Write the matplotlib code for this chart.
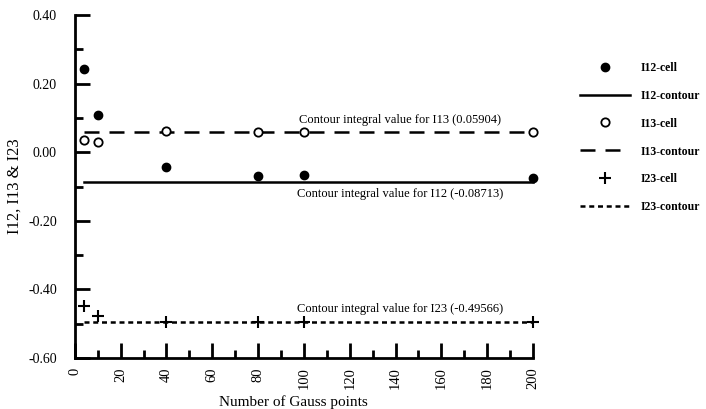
import matplotlib
matplotlib.use("Agg")
import matplotlib.pyplot as plt
import numpy as np

plt.rcParams['font.family'] = ['Liberation Serif', 'DejaVu Serif']

gauss_points = [4, 10, 40, 80, 100, 200]
i12_cell = [0.243, 0.108, -0.042, -0.070, -0.066, -0.075]
i13_cell = [0.035, 0.030, 0.061, 0.058, 0.058, 0.058]
i23_cell = [-0.450, -0.478, -0.495, -0.495, -0.495, -0.495]
contour_x = [4, 200]
i12_contour = -0.08713
i13_contour = 0.05904
i23_contour = -0.49566

fig = plt.figure(figsize=(7.06, 4.09), dpi=100)
ax = fig.add_axes([0.106, 0.125, 0.649, 0.838])

ax.plot(gauss_points, i12_cell, 'o', color='black', ms=6, label='I12-cell', zorder=3, clip_on=False)
ax.plot(contour_x, [i12_contour]*2, '-', color='black', lw=1.8, label='I12-contour', clip_on=False)
ax.plot(gauss_points, i13_cell, 'o', mfc='white', mec='black', mew=1.3, ms=6, label='I13-cell', zorder=3, clip_on=False)
ax.plot(contour_x, [i13_contour]*2, '--', color='black', lw=1.8, dashes=(6, 4), label='I13-contour', clip_on=False)
ax.plot(gauss_points, i23_cell, '+', color='black', ms=9, mew=1.5, label='I23-cell', zorder=3, clip_on=False)
ax.plot(contour_x, [i23_contour]*2, ':', color='black', lw=1.8, dashes=(2, 1.5), label='I23-contour', clip_on=False)

ax.text(142, i13_contour + 0.018, 'Contour integral value for I13 (0.05904)', ha='center', va='bottom', fontsize=9)
ax.text(142, i12_contour - 0.018, 'Contour integral value for I12 (-0.08713)', ha='center', va='top', fontsize=9)
ax.text(142, i23_contour + 0.02, 'Contour integral value for I23 (-0.49566)', ha='center', va='bottom', fontsize=9)

ax.set_xlim(0, 200)
ax.set_ylim(-0.6, 0.4)
ax.set_xticks(np.arange(0, 201, 20))
ax.set_xticks(np.arange(0, 201, 10), minor=True)
ax.set_yticks(np.arange(-0.6, 0.41, 0.2))
ax.set_yticks(np.arange(-0.6, 0.41, 0.1), minor=True)
ax.set_yticklabels(['%.2f' % v for v in np.arange(-0.6, 0.41, 0.2)], fontsize=10)
ax.set_xticklabels([str(v) for v in range(0, 201, 20)], rotation=90, fontsize=10.5)
ax.tick_params(which='major', direction='in', length=11, width=2)
ax.tick_params(which='minor', direction='in', length=6, width=2)
ax.tick_params(axis='x', pad=7)
ax.tick_params(axis='y', pad=13)
for s in ['top', 'right']:
    ax.spines[s].set_visible(False)
for s in ['left', 'bottom']:
    ax.spines[s].set_linewidth(2)

ax.set_xlabel('Number of Gauss points', fontsize=11)
ax.xaxis.set_label_coords((293 - 75) / 458, -0.108)
ax.set_ylabel('I12, I13 & I23', fontsize=12)
ax.yaxis.set_label_coords(-0.115, 0.5)

leg = ax.legend(loc='upper left', bbox_to_anchor=(1.08, 0.895), frameon=False,
                prop={'size': 8.5, 'weight': 'bold'}, handlelength=4.2, labelspacing=1.35,
                handletextpad=0.9, numpoints=1)

fig.savefig('out.png', dpi=100)
